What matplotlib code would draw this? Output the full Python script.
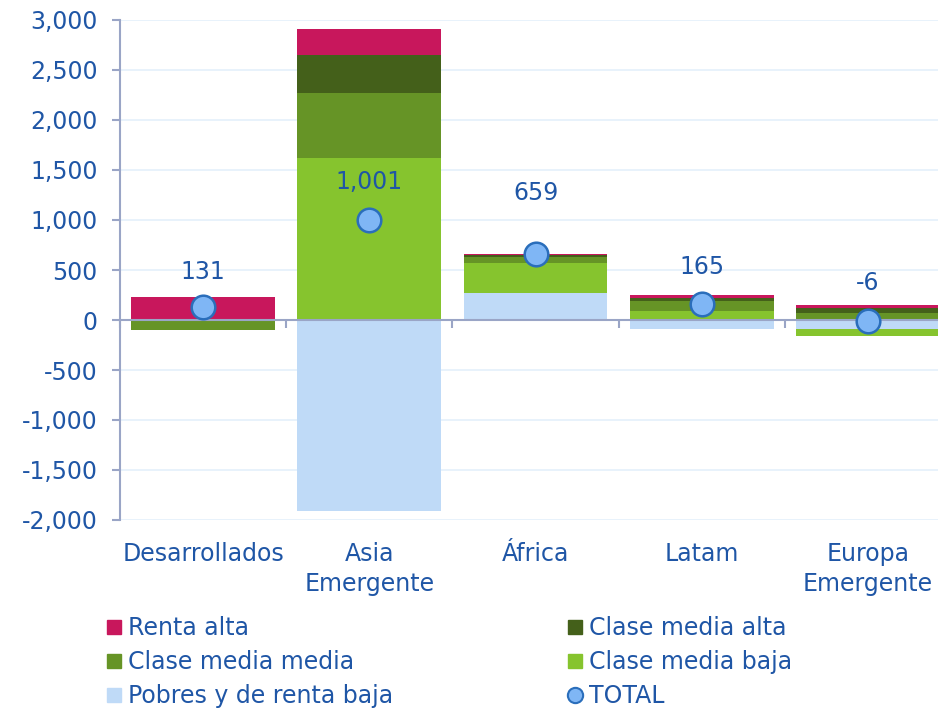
import numpy as np
import matplotlib
matplotlib.use("Agg")
import matplotlib.pyplot as plt
from matplotlib.lines import Line2D
from matplotlib.transforms import blended_transform_factory, offset_copy

# -------------------------------------------------------------------------------------
# Data
categories = ['Desarrollados', 'Asia\nEmergente', 'África', 'Latam', 'Europa\nEmergente']

renta_alta = [231, 257, 10, 30, 29]
clase_media_alta = [0, 383, 20, 30, 50]
clase_media_media = [-100, 650, 60, 100, 70]
clase_media_baja = [0, 1617, 295, 90, -70]
pobres = [0, -1906, 274, -85, -85]
total = [131, 1001, 659, 165, -6]

total_labels = ['131', '1,001', '659', '165', '-6']
y_ticks = [-2000, -1500, -1000, -500, 0, 500, 1000, 1500, 2000, 2500, 3000]
# -------------------------------------------------------------------------------------

# -------------------------------------------------------------------------------------
# Style
text_color = '#1F56A6'
axis_color = '#9AA5C6'
grid_color = '#E4F0FB'
font_size = 17

series = [
    ('Pobres y de renta baja', pobres, '#BFDAF7'),
    ('Clase media baja', clase_media_baja, '#86C42E'),
    ('Clase media media', clase_media_media, '#669426'),
    ('Clase media alta', clase_media_alta, '#44601A'),
    ('Renta alta', renta_alta, '#C8175C'),
]
# label offset above the marker, in points (Africa raised to clear the marker)
label_offsets = [25, 27, 44, 26, 27]
# -------------------------------------------------------------------------------------

fig = plt.figure(figsize=(9.38, 7.10), dpi=100)
ax = fig.add_axes([120 / 938, 190 / 710, 831 / 938, 500 / 710])

x = np.arange(len(categories))
width = 0.865

pos_base = np.zeros(len(categories))
neg_base = np.zeros(len(categories))
colors = {}
for name, values, color in series:
    values = np.array(values, dtype=float)
    colors[name] = color
    pos = np.where(values > 0, values, 0)
    neg = np.where(values < 0, values, 0)
    ax.bar(x, pos, width, bottom=pos_base, color=color, linewidth=0, zorder=1)
    ax.bar(x, neg, width, bottom=neg_base, color=color, linewidth=0, zorder=1)
    pos_base += pos
    neg_base += neg

ax.plot(x, total, linestyle='none', marker='o', markersize=17,
        markerfacecolor='#7FB6F5', markeredgecolor='#2A6EBB',
        markeredgewidth=1.8, zorder=5)

for xi, val, lab, off in zip(x, total, total_labels, label_offsets):
    ax.annotate(lab, (xi, val), xytext=(0, off), textcoords='offset points',
                ha='center', va='center', fontsize=font_size, color=text_color,
                zorder=6)

# axes
ax.set_xlim(-0.5, len(categories) - 0.5)
ax.set_ylim(-2000, 3000)
ax.set_yticks(y_ticks)
ax.set_yticklabels(['{:,.0f}'.format(v) for v in y_ticks])
ax.tick_params(axis='y', colors=axis_color, labelcolor=text_color,
               labelsize=font_size, length=6, width=1.5, pad=10)

ax.set_xticks(np.arange(-0.5, len(categories), 1.0))
ax.set_xticklabels([])
ax.tick_params(axis='x', colors=axis_color, length=6, width=1.5, direction='out')

for side in ['top', 'right']:
    ax.spines[side].set_visible(False)
ax.spines['bottom'].set_position(('data', 0))
ax.spines['bottom'].set_color(axis_color)
ax.spines['bottom'].set_linewidth(1.5)
ax.spines['left'].set_color(axis_color)
ax.spines['left'].set_linewidth(1.5)

ax.set_axisbelow(True)
ax.yaxis.grid(True, color=grid_color, linewidth=1.2)

# category labels below the plot area
trans = offset_copy(blended_transform_factory(ax.transData, ax.transAxes),
                    fig=fig, y=-15.5, units='points')
for xi, cat in zip(x, categories):
    ax.text(xi, 0, cat, transform=trans, ha='center', va='top',
            fontsize=font_size, color=text_color, linespacing=1.35)

# legend, two columns placed by hand
def square(color):
    return Line2D([], [], linestyle='none', marker='s', markersize=10,
                  markerfacecolor=color, markeredgecolor=color)

col1 = [('Renta alta', square(colors['Renta alta'])),
        ('Clase media media', square(colors['Clase media media'])),
        ('Pobres y de renta baja', square(colors['Pobres y de renta baja']))]
col2 = [('Clase media alta', square(colors['Clase media alta'])),
        ('Clase media baja', square(colors['Clase media baja'])),
        ('TOTAL', Line2D([], [], linestyle='none', marker='o', markersize=11,
                         markerfacecolor='#7FB6F5', markeredgecolor='#2A6EBB',
                         markeredgewidth=1.5))]

for entries, x0 in [(col1, 106 / 938), (col2, 567 / 938)]:
    leg = fig.legend([h for _, h in entries], [t for t, _ in entries],
                     loc='upper left', bbox_to_anchor=(x0, 1 - 616 / 710),
                     frameon=False, fontsize=font_size, handlelength=0.7,
                     handletextpad=0.25, labelspacing=0.43, borderaxespad=0,
                     borderpad=0)
    for t in leg.get_texts():
        t.set_color(text_color)

fig.savefig('out.png', dpi=100)
